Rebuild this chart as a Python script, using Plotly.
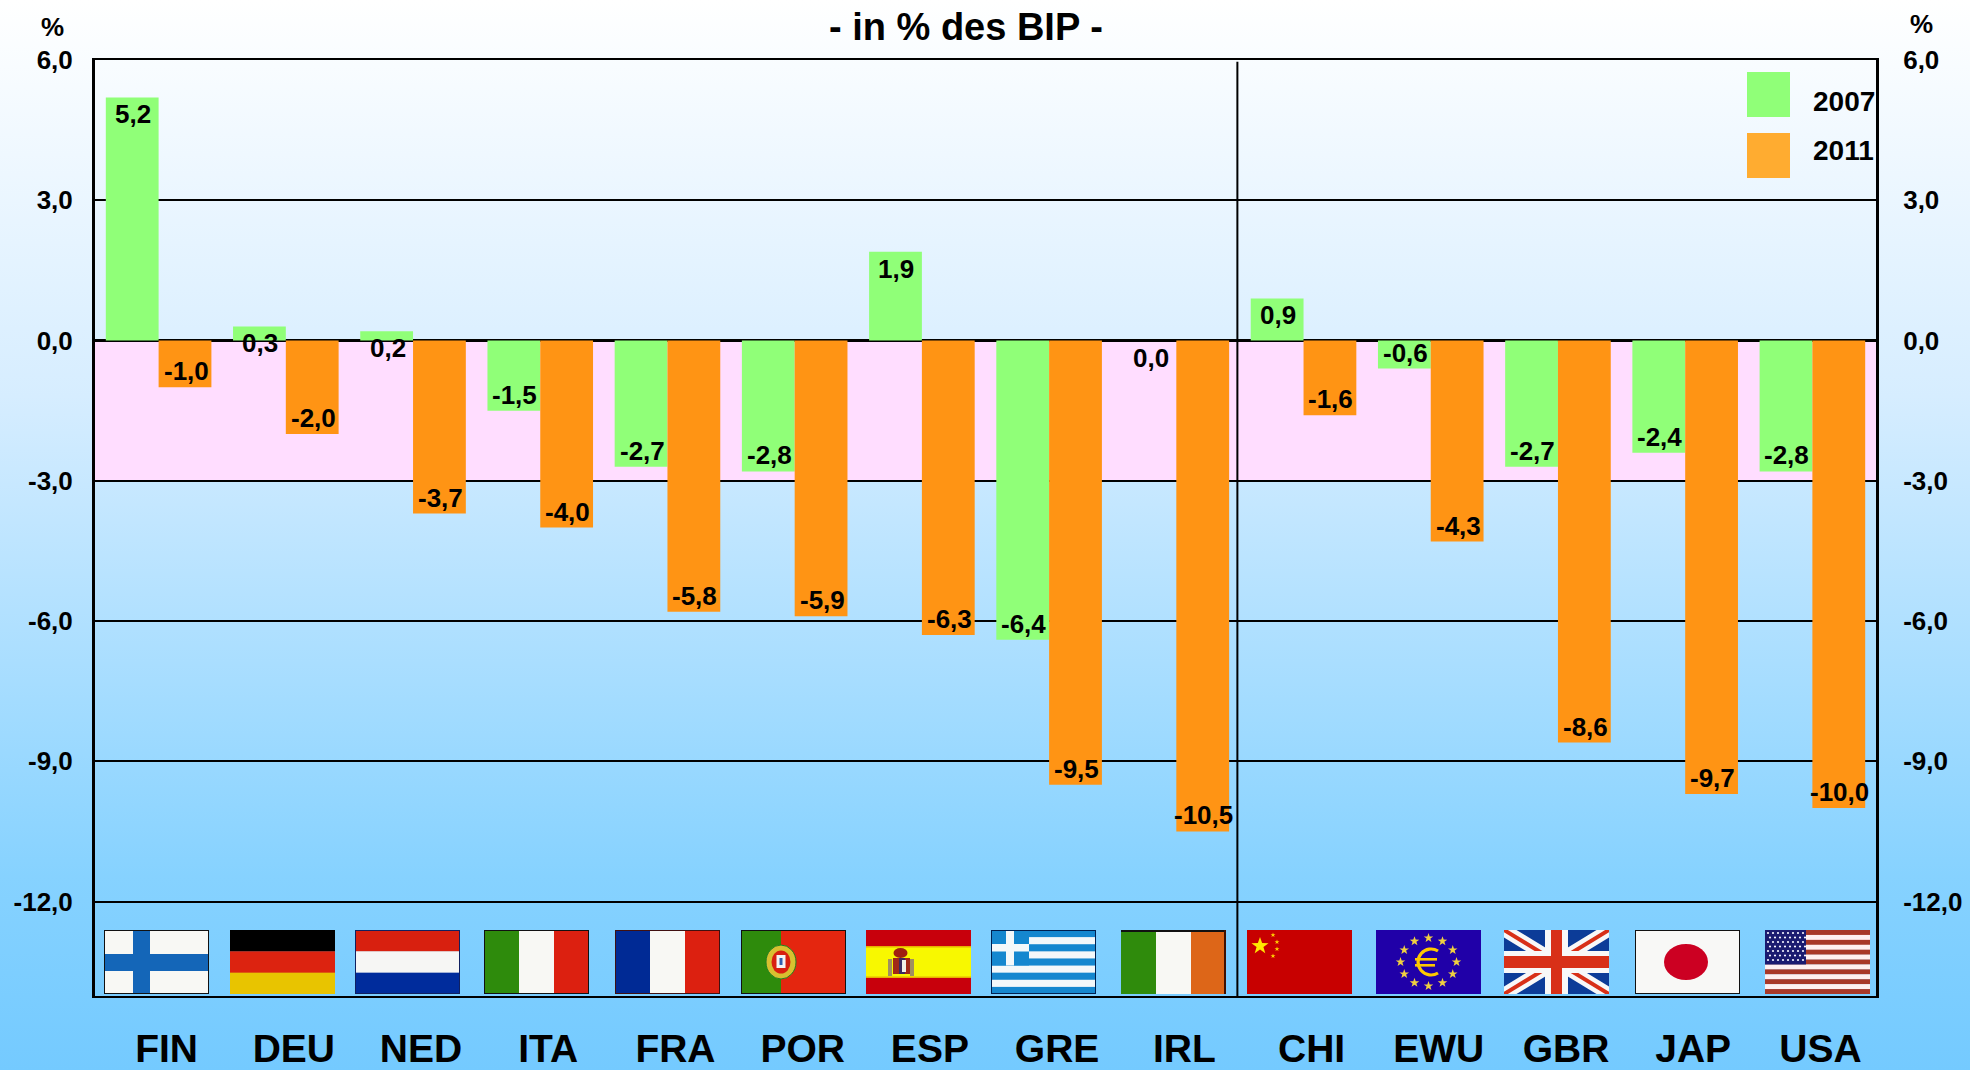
import math
import urllib.parse
import plotly.graph_objects as go

categories = ["FIN", "DEU", "NED", "ITA", "FRA", "POR", "ESP", "GRE", "IRL", "CHI", "EWU", "GBR", "JAP", "USA"]
values_2007 = [5.2, 0.3, 0.2, -1.5, -2.7, -2.8, 1.9, -6.4, 0.0, 0.9, -0.6, -2.7, -2.4, -2.8]
values_2011 = [-1.0, -2.0, -3.7, -4.0, -5.8, -5.9, -6.3, -9.5, -10.5, -1.6, -4.3, -8.6, -9.7, -10.0]
tick_vals = [6, 3, 0, -3, -6, -9, -12]
tick_text = ["6,0", "3,0", "0,0", "-3,0", "-6,0", "-9,0", "-12,0"]
series_names = ["2007", "2011"]
title_text = "- in % des BIP -"
flag_left = [104, 230, 355, 484, 615, 741, 866, 991, 1121, 1247, 1376, 1504, 1635, 1765]

W, H = 1970, 1070
L, R, T, B = 95, 94, 60, 74
PW, PH = W - L - R, H - T - B
FONT = "Liberation Sans"
GREEN, ORANGE, LEG_ORANGE = "#90FF78", "#FF9414", "#FFAC30"


def px(x):
    return (x - L) / PW


def py(y):
    return 1 - (y - T) / PH


def uri(body, w=105, h=64):
    svg = (f'<svg xmlns="http://www.w3.org/2000/svg" width="{w}" height="{h}" '
           f'viewBox="0 0 {w} {h}" preserveAspectRatio="none">{body}</svg>')
    return "data:image/svg+xml;charset=utf-8," + urllib.parse.quote(svg)


def rect(x, y, w, h, c):
    return f'<rect x="{x}" y="{y}" width="{w}" height="{h}" fill="{c}"/>'


def border(c="#111"):
    return f'<rect x="0.5" y="0.5" width="104" height="63" fill="none" stroke="{c}" stroke-width="1"/>'


def star(cx, cy, r, c):
    pts = []
    for i in range(10):
        a = -math.pi / 2 + i * math.pi / 5
        q = r if i % 2 == 0 else r * 0.4
        pts.append(f"{cx + q * math.cos(a):.2f},{cy + q * math.sin(a):.2f}")
    return f'<polygon points="{" ".join(pts)}" fill="{c}"/>'


def hbands(cs):
    h = 64 / len(cs)
    return "".join(rect(0, i * h, 105, h + 0.3, c) for i, c in enumerate(cs))


def vbands(cs):
    w = 105 / len(cs)
    return "".join(rect(i * w, 0, w + 0.3, 64, c) for i, c in enumerate(cs))


def flag_svg(code):
    if code == "FIN":
        return rect(0, 0, 105, 64, "#F8F8F4") + rect(29, 0, 17, 64, "#1466B8") + rect(0, 24, 105, 17, "#1466B8") + border()
    if code == "DEU":
        return hbands(["#000000", "#DC2310", "#E8C400"])
    if code == "NED":
        return hbands(["#D8200F", "#F6F6F4", "#002C9C"]) + border("#102060")
    if code == "ITA":
        return vbands(["#2E8B0C", "#F8F8F4", "#DC2010"]) + border()
    if code == "FRA":
        return vbands(["#002A95", "#F8F8F4", "#DC2010"]) + border("#401010")
    if code == "POR":
        e = ('<ellipse cx="40" cy="32" rx="15" ry="17" fill="#D8C030" stroke="#208020" stroke-width="1"/>'
             '<ellipse cx="40" cy="32" rx="9.5" ry="11.5" fill="#D82010"/>')
        e += rect(35.5, 25, 9, 13, "#F4F4F4") + rect(38.5, 28, 3, 7, "#3060B0")
        return rect(0, 0, 40, 64, "#2E8B0C") + rect(40, 0, 65, 64, "#E4260F") + e + border()
    if code == "ESP":
        e = rect(27, 28, 17, 16, "#A02818") + rect(33, 28, 6, 16, "#3A2A60") + rect(36, 30, 4, 12, "#F0F0E8")
        e += rect(22, 29, 4, 17, "#A09060") + rect(44, 29, 4, 17, "#A09060")
        e += '<ellipse cx="34.5" cy="23" rx="7" ry="5" fill="#A02010"/>'
        return (rect(0, 0, 105, 64, "#C8000C") + rect(0, 16, 105, 32, "#E8B000") + rect(0, 17.5, 105, 29, "#F8F800") + e)
    if code == "GRE":
        b = rect(0, 0, 105, 64, "#1587CF")
        for i in [1, 3, 5, 7]:
            b += rect(0, i * 64 / 9, 105, 64 / 9, "#F4F8FA")
        b += rect(0, 0, 38, 35.5, "#1587CF") + rect(15, 0, 8, 35.5, "#F4F8FA") + rect(0, 14, 38, 7.5, "#F4F8FA")
        return b + border("#002050")
    if code == "IRL":
        return vbands(["#2F8B0C", "#F8F8F4", "#DD6618"]) + rect(0, 0, 105, 2, "#111") + rect(103, 0, 2, 64, "#401000")
    if code == "CHI":
        b = rect(0, 0, 105, 64, "#C80000") + star(13, 16, 9, "#FFE800")
        for x, y in [(26, 5), (30, 12), (30, 19), (26, 26)]:
            b += star(x, y, 2.6, "#FFD000")
        return b
    if code == "EWU":
        b = rect(0, 0, 105, 64, "#2000A8")
        for i in range(12):
            a = i * math.pi / 6
            b += star(52.5 + 28 * math.sin(a), 32 - 24 * math.cos(a), 5, "#F0D040")
        b += ('<path d="M62 21 A13 13 0 1 0 62 43" fill="none" stroke="#FFC800" stroke-width="3.2"/>'
              + rect(39, 28, 22, 2.6, "#FFC800") + rect(39, 34, 20, 2.6, "#FFC800"))
        return b
    if code == "GBR":
        return (rect(0, 0, 105, 64, "#0C3C98")
                + '<path d="M0 0L105 64M105 0L0 64" stroke="#F8F8F8" stroke-width="13"/>'
                + '<path d="M0 0L105 64M105 0L0 64" stroke="#D83018" stroke-width="4"/>'
                + rect(41, 0, 23, 64, "#F8F8F8") + rect(0, 21, 105, 22, "#F8F8F8")
                + rect(47, 0, 11, 64, "#D83018") + rect(0, 26, 105, 12, "#D83018"))
    if code == "JAP":
        return rect(0, 0, 105, 64, "#F8F8F6") + '<ellipse cx="51" cy="32" rx="22" ry="18" fill="#CC0022"/>' + border()
    if code == "USA":
        h = 64 / 13
        b = "".join(rect(0, i * h, 105, h + 0.2, "#A83828" if i % 2 == 0 else "#FFF0F0") for i in range(13))
        b += rect(0, 0, 41, 7 * h, "#1A1A70")
        for r_ in range(7):
            for c_ in range(8):
                b += f'<circle cx="{3 + c_ * 5 + (r_ % 2) * 2}" cy="{3 + r_ * 4.5}" r="1.1" fill="#F4F4FF"/>'
        return b
    return ""


fig = go.Figure()
fig.add_bar(name=series_names[0], x=categories, y=values_2007, marker=dict(color=GREEN, line_width=0), showlegend=False)
fig.add_bar(name=series_names[1], x=categories, y=values_2011, marker=dict(color=ORANGE, line_width=0), showlegend=False)
# keeps the right-hand value axis alive
fig.add_scatter(x=[categories[0]], y=[0], yaxis="y2", mode="markers", marker=dict(opacity=0, size=1),
                showlegend=False, hoverinfo="skip")

images = [dict(
    source=uri('<defs><linearGradient id="g" x1="0" y1="0" x2="0" y2="1">'
               '<stop offset="0" stop-color="#FFFFFF"/><stop offset="0.37" stop-color="#D6EDFF"/>'
               '<stop offset="0.82" stop-color="#86D2FF"/><stop offset="1" stop-color="#74CAFF"/>'
               f'</linearGradient></defs><rect width="{W}" height="{H}" fill="url(#g)"/>', W, H),
    xref="paper", yref="paper", x=px(0), y=py(0), sizex=W / PW, sizey=H / PH,
    xanchor="left", yanchor="top", sizing="stretch", layer="below")]
for code, left in zip(categories, flag_left):
    images.append(dict(source=uri(flag_svg(code)), xref="paper", yref="paper", x=px(left), y=py(930),
                       sizex=105 / PW, sizey=64 / PH, xanchor="left", yanchor="top",
                       sizing="stretch", layer="above"))

shapes = [
    dict(type="rect", xref="x domain", yref="y", x0=0, x1=1, y0=0, y1=-3, fillcolor="#FFDDFF", line_width=0, layer="below"),
    dict(type="line", xref="x", yref="paper", x0=8.48, x1=8.48, y0=-0.002, y1=0.998, line=dict(color="#000", width=2), layer="above"),
    dict(type="rect", xref="paper", yref="paper", x0=px(1747), x1=px(1790), y0=py(72), y1=py(117), fillcolor=GREEN, line_width=0),
    dict(type="rect", xref="paper", yref="paper", x0=px(1747), x1=px(1790), y0=py(133), y1=py(178), fillcolor=LEG_ORANGE, line_width=0),
]

anns = []
for series, xs in ((values_2007, -25.4), (values_2011, 27.4)):
    for c, v in zip(categories, series):
        anns.append(dict(x=c, y=v, xref="x", yref="y", xshift=xs, yshift=-17 if v >= 0 else 16,
                         text=f"{v:.1f}".replace(".", ","), showarrow=False,
                         font=dict(family=FONT, size=26, color="#000", weight=700)))

for text, x, y, size, anchor in [
    (title_text, 966, 27, 38, "center"),
    ("%", 52, 27, 26, "center"),
    ("%", 1922, 24, 26, "center"),
    (series_names[0], 1811, 102, 28, "left"),
    (series_names[1], 1811, 150, 28, "left"),
]:
    anns.append(dict(x=px(x), y=py(y), xref="paper", yref="paper", xanchor=anchor, yanchor="middle",
                     text=text, showarrow=False, font=dict(family=FONT, size=size, color="#000", weight=700)))

fig.update_layout(
    width=W, height=H, margin=dict(l=L, r=R, t=T, b=B, pad=0, autoexpand=False),
    paper_bgcolor="rgba(0,0,0,0)", plot_bgcolor="rgba(0,0,0,0)",
    barmode="group", bargap=0.17, bargroupgap=0,
    font=dict(family=FONT, color="#000"),
    images=images, shapes=shapes, annotations=anns,
    xaxis=dict(type="category", categoryorder="array", categoryarray=categories, range=[-0.5, 13.5],
               showline=True, mirror=True, linecolor="#000", linewidth=2, showgrid=False, zeroline=False,
               automargin=False, ticks="", ticklabelstandoff=17, ticklabelshift=8,
               tickfont=dict(family=FONT, size=39, color="#000", weight=700)),
    yaxis=dict(range=[-14.02, 6], tickvals=tick_vals, ticktext=tick_text, showline=True, linecolor="#000",
               linewidth=3, showgrid=True, gridcolor="#000", gridwidth=2, zeroline=True, zerolinecolor="#000",
               zerolinewidth=3, automargin=False, ticks="", ticklabelstandoff=14,
               tickfont=dict(family=FONT, size=26, color="#000", weight=700)),
    yaxis2=dict(range=[-14.02, 6], overlaying="y", side="right", tickvals=tick_vals, ticktext=tick_text,
                showline=True, linecolor="#000", linewidth=3, showgrid=False, zeroline=False, ticks="",
                automargin=False, ticklabelstandoff=19, tickfont=dict(family=FONT, size=26, color="#000", weight=700)),
)

fig.write_html("out.html", config={"displayModeBar": False},
               post_script="document.body.style.margin='0';document.body.style.overflow='hidden';")
